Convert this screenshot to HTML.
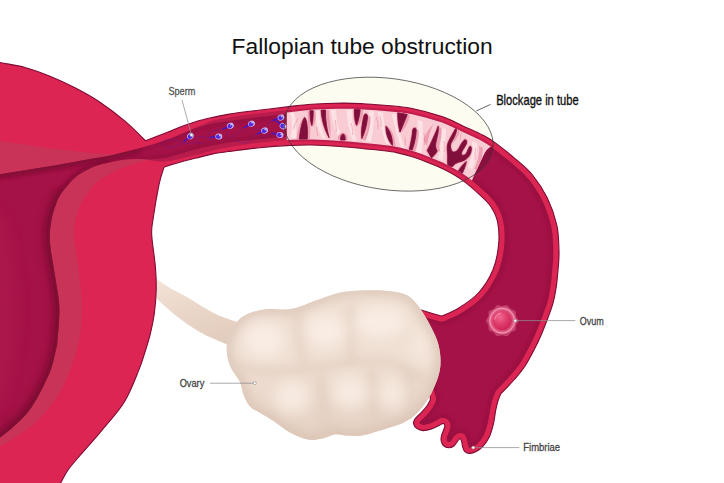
<!DOCTYPE html>
<html lang="en"><head><meta charset="utf-8"><title>Fallopian tube obstruction</title>
<style>html,body{margin:0;padding:0;background:#fff;overflow:hidden}svg{display:block}</style></head>
<body>
<svg width="724" height="483" viewBox="0 0 724 483">
<defs>
<clipPath id="cpDark"><path d="M-20.0 451.0L-3.2 439.7L6.6 432.6L10.6 429.2L20.2 420.4L26.4 413.9L31.0 408.0L37.2 397.9L43.4 386.3L49.5 373.1L51.2 368.4L53.2 361.7L57.1 344.5L58.9 323.1L59.4 312.8L59.2 304.6L58.2 295.5L51.1 252.4L49.8 242.0L49.7 236.1L49.9 230.7L50.8 224.1L52.0 216.7L54.1 209.2L57.5 199.9L60.3 194.7L64.5 189.1L71.4 181.1L77.5 175.5L83.0 171.9L91.4 167.7L95.6 166.0L100.3 164.6L116.1 161.0L123.2 159.8L129.0 159.3L136.1 159.1L141.6 159.0L147.6 159.4L151.8 159.3L159.0 158.7L166.3 157.7L171.1 156.6L186.3 151.9L200.0 148.0L225.9 142.8L238.2 141.3L287.7 136.4L288.0 136.7L288.0 139.8L301.0 139.3L311.9 139.3L322.4 139.7L338.6 140.7L349.4 141.5L379.3 144.5L391.9 146.0L400.6 147.6L409.2 149.8L417.8 152.5L426.3 155.7L440.3 161.4L447.5 164.8L456.0 169.4L461.9 173.0L467.7 177.0L478.2 185.7L487.7 194.3L491.7 198.4L494.5 201.9L497.7 206.8L499.9 211.1L501.7 215.5L503.2 220.7L504.1 226.6L504.7 234.7L504.6 241.2L503.8 249.6L502.8 256.3L501.2 263.1L499.1 269.8L496.3 276.2L491.7 284.6L487.5 290.8L482.9 296.4L477.8 301.4L472.0 306.0L464.4 311.2L457.6 315.3L449.2 319.1L443.4 321.4L441.7 321.7L440.1 321.5L431.0 319.0L416.1 314.4L418.0 334.1L419.1 341.5L420.6 348.7L422.6 356.5L425.4 365.4L435.0 393.9L436.1 397.7L436.0 400.1L435.4 402.3L433.8 405.6L431.9 408.7L427.5 414.2L424.2 417.8L420.1 421.6L419.3 422.8L420.2 423.7L421.7 424.5L423.1 424.9L424.9 424.8L431.4 422.9L440.8 418.1L442.4 417.9L443.9 417.9L446.5 418.7L447.9 419.7L449.2 421.1L450.2 423.2L450.5 425.2L450.4 427.2L449.9 429.4L447.5 435.5L446.9 437.9L446.7 439.7L447.4 441.4L448.7 442.1L450.5 441.5L454.3 436.1L456.8 433.9L459.3 432.9L461.7 433.1L463.9 434.1L464.9 435.0L465.9 436.5L467.3 440.6L467.9 444.4L468.7 447.0L468.8 447.4L469.6 447.7L471.2 447.4L473.1 446.7L477.0 444.2L480.6 440.1L483.5 435.6L485.7 430.4L487.8 422.8L488.6 418.9L490.0 409.9L491.9 401.2L493.3 396.9L495.6 391.3L496.6 389.9L508.1 377.9L513.7 371.5L518.5 365.5L522.2 359.7L530.2 345.0L534.8 335.2L540.3 321.9L546.7 304.2L548.2 299.0L549.3 293.8L551.3 280.5L553.2 258.4L553.1 246.1L552.5 234.9L551.2 226.2L548.2 215.4L544.1 204.6L540.2 196.6L535.6 188.9L529.4 180.2L524.3 174.4L520.4 170.7L510.1 161.8L496.9 151.2L487.6 144.5L479.6 139.9L449.1 125.6L444.0 123.4L433.2 119.8L420.0 116.2L407.6 113.5L398.6 112.2L376.5 110.3L355.2 109.1L345.0 108.8L333.2 109.0L317.0 109.6L306.0 110.4L288.0 112.5L288.0 113.6L287.7 113.9L248.4 118.4L215.6 123.0L205.0 125.4L194.0 128.5L172.9 137.6L163.3 141.1L153.5 144.3L136.9 148.9L110.8 155.4L103.8 156.8L90.0 159.0L76.6 161.6L55.8 165.3L0.0 174.3L-20.0 178.0L-20.0 451.0Z"/></clipPath>
<clipPath id="cpPink"><path d="M286.8 140.0L301.0 139.4L311.9 139.4L325.1 139.9L341.0 141.0L351.3 141.8L379.3 144.6L391.9 146.1L400.6 147.7L409.2 149.9L419.2 153.1L429.1 156.9L443.1 162.8L450.3 166.4L458.9 171.3L466.1 176.0L471.9 180.5L475.4 172.6L484.7 153.1L486.0 151.0L486.9 149.8L488.3 148.5L490.8 146.5L486.1 143.4L479.6 139.8L447.5 124.7L442.2 122.6L438.0 121.2L425.4 117.5L412.3 114.3L407.6 113.4L400.9 112.4L376.5 110.2L352.1 108.8L345.0 108.7L335.8 108.8L314.5 109.6L304.1 110.5L286.8 112.6L286.8 140.0Z"/></clipPath>
<clipPath id="cpOvary"><path d="M236.8 322.2C239.9 318.4 242.5 316.2 247.3 314.0C252.2 311.8 258.4 310.1 265.9 309.2C273.3 308.3 283.3 310.4 292.0 308.8C300.7 307.2 309.9 302.5 318.0 299.8C326.1 297.1 332.4 294.2 340.5 292.6C348.6 291.0 357.8 290.5 366.5 290.3C375.2 290.1 385.8 290.5 392.6 291.4C399.4 292.3 403.1 293.0 407.5 295.5C411.9 298.0 414.9 301.4 418.7 306.5C422.5 311.6 427.1 319.3 430.5 325.9C433.9 332.5 437.2 338.8 438.8 346.0C440.4 353.2 441.2 361.2 440.0 369.0C438.8 376.8 435.1 385.9 431.5 393.0C427.9 400.1 423.3 406.7 418.7 411.6C414.1 416.5 410.2 419.4 403.8 422.5C397.4 425.6 387.0 428.3 380.0 430.5C373.0 432.7 367.4 434.6 362.0 435.5C356.6 436.4 352.1 435.8 347.7 435.6C343.3 435.4 339.6 433.8 335.5 434.2C331.4 434.6 327.9 437.3 323.3 438.2C318.7 439.1 313.6 440.6 308.0 439.6C302.4 438.7 295.6 435.5 290.0 432.5C284.4 429.5 279.8 425.0 274.7 421.7C269.6 418.4 263.6 415.1 259.5 412.6C255.4 410.1 252.7 409.5 250.0 406.5C247.3 403.5 245.2 398.6 243.5 394.5C241.8 390.4 242.0 386.4 239.8 381.8C237.6 377.2 232.7 371.9 230.5 366.9C228.3 361.9 227.1 357.0 226.8 352.0C226.5 347.0 226.9 342.0 228.6 337.0C230.3 332.0 233.7 326.0 236.8 322.2Z"/></clipPath>
<clipPath id="cpLig"><path d="M150.0 274.0C150.8 274.6 151.7 275.1 155.0 277.4C158.3 279.7 164.6 284.7 170.0 288.0C175.4 291.3 179.9 293.1 187.3 297.3C194.7 301.6 206.3 309.4 214.6 313.5C222.9 317.6 231.9 320.1 237.0 322.0C242.1 323.9 243.7 324.5 245.0 325.0L240.0 350.0C237.8 349.1 233.7 347.5 227.0 344.5C220.3 341.5 208.4 337.0 199.7 332.0C191.0 327.0 182.3 320.5 174.9 314.7C167.5 308.9 159.2 300.9 155.0 297.3C150.8 293.7 150.8 293.7 150.0 293.0Z"/></clipPath>
<filter id="b2" filterUnits="userSpaceOnUse" x="-30" y="-30" width="784" height="543"><feGaussianBlur stdDeviation="2.2"/></filter>
<filter id="b3" filterUnits="userSpaceOnUse" x="-30" y="-30" width="784" height="543"><feGaussianBlur stdDeviation="4"/></filter>
<filter id="b8" filterUnits="userSpaceOnUse" x="-30" y="-30" width="784" height="543"><feGaussianBlur stdDeviation="7"/></filter>
<filter id="b1" filterUnits="userSpaceOnUse" x="-30" y="-30" width="784" height="543"><feGaussianBlur stdDeviation="0.7"/></filter>
<radialGradient id="gOvum" cx="0.38" cy="0.32" r="0.75"><stop offset="0" stop-color="#F0688F"/><stop offset="0.55" stop-color="#DD3968"/><stop offset="1" stop-color="#CB2052"/></radialGradient>
<linearGradient id="gOvSh" x1="0" y1="0" x2="0" y2="1"><stop offset="0.45" stop-color="#D8BFAE" stop-opacity="0"/><stop offset="1" stop-color="#D8BFAE" stop-opacity="0.5"/></linearGradient>
<linearGradient id="gLig" x1="0" y1="0" x2="0.35" y2="1"><stop offset="0" stop-color="#F3E4D8"/><stop offset="0.5" stop-color="#EBD8CA"/><stop offset="1" stop-color="#E2CCBD"/></linearGradient>
</defs>
<rect width="724" height="483" fill="#fff"/>
<ellipse cx="388.7" cy="134.15" rx="105.2" ry="55.6" transform="rotate(8 388.7 134.15)" fill="#FDFCF1"/>
<path d="M150.0 274.0C150.8 274.6 151.7 275.1 155.0 277.4C158.3 279.7 164.6 284.7 170.0 288.0C175.4 291.3 179.9 293.1 187.3 297.3C194.7 301.6 206.3 309.4 214.6 313.5C222.9 317.6 231.9 320.1 237.0 322.0C242.1 323.9 243.7 324.5 245.0 325.0L240.0 350.0C237.8 349.1 233.7 347.5 227.0 344.5C220.3 341.5 208.4 337.0 199.7 332.0C191.0 327.0 182.3 320.5 174.9 314.7C167.5 308.9 159.2 300.9 155.0 297.3C150.8 293.7 150.8 293.7 150.0 293.0Z" fill="url(#gLig)"/>
<path d="M-20.0 58.0C-16.7 58.8 -7.5 60.9 0.0 62.5C7.5 64.1 16.7 65.2 25.0 67.5C33.3 69.8 41.7 72.9 50.0 76.3C58.3 79.7 66.7 83.5 75.0 87.8C83.3 92.1 91.7 96.6 100.0 102.2C108.3 107.8 117.4 114.8 125.0 121.2C132.6 127.6 142.2 137.5 145.6 140.8L145.6 140.8C148.5 139.7 157.3 136.2 163.0 134.0C168.7 131.8 174.1 129.4 179.7 127.3C185.2 125.2 190.8 123.2 196.3 121.5C201.8 119.8 207.4 118.6 212.9 117.4C218.4 116.2 223.3 115.1 229.5 114.1C235.7 113.1 240.4 112.5 250.0 111.3C259.6 110.1 276.7 108.1 287.0 106.9C297.3 105.7 302.5 104.8 311.8 104.2C321.1 103.6 334.3 103.2 342.9 103.1C351.5 103.0 356.7 103.4 363.6 103.8C370.5 104.2 376.4 104.5 384.3 105.2C392.2 106.0 401.4 106.4 411.0 108.3C420.6 110.2 433.4 113.7 442.0 116.6C450.6 119.5 456.0 122.7 462.9 125.9C469.8 129.1 478.1 132.7 483.6 135.6C489.1 138.5 490.7 139.5 496.0 143.4C501.3 147.3 509.2 153.5 515.3 158.8C521.4 164.1 527.2 168.5 532.5 175.0C537.8 181.5 543.2 189.7 547.3 198.0C551.3 206.3 554.8 216.0 556.8 225.0C558.8 234.0 558.8 244.5 559.0 252.0C559.2 259.5 558.5 264.2 558.0 270.0C557.5 275.8 557.1 281.1 556.3 286.6C555.5 292.1 554.5 297.6 553.0 303.1C551.5 308.6 549.3 314.2 547.2 319.7C545.1 325.2 542.8 331.2 540.6 336.3C538.4 341.4 536.6 345.0 534.0 350.0C531.4 355.0 527.9 361.7 524.7 366.5C521.5 371.3 518.0 375.3 514.8 379.0C511.6 382.7 508.0 386.4 505.6 388.9C503.2 391.4 501.5 393.1 500.7 393.9L500.7 393.9C500.2 395.2 498.5 399.1 497.6 402.0C496.8 404.9 496.3 407.5 495.6 411.0C494.9 414.5 494.6 418.9 493.6 423.1C492.6 427.3 491.3 432.5 489.5 436.4C487.7 440.3 485.1 443.8 482.9 446.3C480.7 448.8 478.4 450.3 476.2 451.5C474.0 452.7 471.5 453.4 469.6 453.4C467.7 453.4 465.8 452.5 464.6 451.3C463.4 450.1 463.0 447.9 462.5 446.3C462.0 444.8 462.2 443.3 461.8 442.0C461.4 440.7 461.0 438.8 460.3 438.6C459.6 438.4 458.8 439.8 457.7 441.0C456.6 442.2 455.4 444.9 453.9 446.0C452.3 447.1 450.1 447.9 448.4 447.8C446.6 447.7 444.6 446.7 443.4 445.5C442.2 444.3 441.4 442.3 441.1 440.5C440.8 438.7 441.2 436.8 441.8 434.7C442.4 432.6 443.9 429.7 444.4 428.0C444.9 426.3 444.9 425.2 444.6 424.5C444.3 423.8 443.4 423.4 442.5 423.6C441.6 423.8 440.8 424.7 439.0 425.6C437.2 426.5 434.1 428.1 431.5 428.9C428.9 429.7 425.6 430.7 423.2 430.6C420.8 430.5 418.5 429.5 416.9 428.4C415.3 427.3 413.9 425.5 413.6 423.9C413.3 422.3 413.7 420.8 414.9 419.0C416.1 417.2 418.8 415.3 420.7 413.2C422.6 411.1 425.0 408.6 426.5 406.5C428.0 404.4 429.2 402.1 429.9 400.7C430.5 399.3 430.3 398.4 430.4 398.0L430.4 398.0C427.8 390.0 418.4 364.6 415.0 350.0C411.6 335.4 410.8 317.2 410.0 310.7L410.0 306.5C413.3 307.6 424.7 311.2 430.0 312.8C435.3 314.4 439.7 315.5 441.6 316.0L441.6 316.0C444.3 314.8 451.8 312.4 458.0 308.5C464.2 304.6 473.0 299.0 478.8 292.5C484.6 286.0 489.7 277.6 493.0 269.7C496.3 261.8 497.8 252.8 498.6 244.9C499.4 237.0 498.9 228.4 497.6 222.0C496.3 215.6 493.6 210.8 490.6 206.2C487.6 201.6 484.1 198.9 479.5 194.6C474.9 190.3 468.4 184.6 462.9 180.6C457.4 176.6 451.8 173.5 446.3 170.6C440.8 167.7 435.2 165.5 429.7 163.2C424.2 160.9 418.7 158.8 413.2 157.0C407.7 155.2 402.1 153.7 396.6 152.6C391.1 151.5 385.5 151.0 380.0 150.3C374.5 149.7 369.8 149.3 363.6 148.7C357.4 148.1 351.5 147.3 342.9 146.7C334.3 146.1 321.1 145.2 311.8 145.0C302.5 144.8 295.6 145.2 287.0 145.6C278.4 146.0 269.6 146.7 260.0 147.7C250.4 148.7 237.3 150.4 229.5 151.4C221.7 152.4 218.4 152.8 212.9 153.9C207.4 155.0 201.8 156.6 196.3 158.0C190.8 159.4 185.1 160.7 179.7 162.2C174.3 163.7 166.6 166.3 164.0 167.1L164.0 167.1C163.2 170.0 160.8 175.9 159.0 184.6C157.2 193.3 154.2 211.1 153.0 219.5C151.8 227.9 151.3 227.1 151.7 235.0C152.1 242.9 154.7 257.8 155.4 267.0C156.2 276.2 156.3 282.5 156.2 290.0C156.0 297.5 155.4 304.8 154.5 312.0C153.6 319.2 152.1 326.3 150.5 333.0C148.9 339.7 146.9 345.9 145.0 352.0C143.1 358.1 142.4 361.3 139.0 369.6C135.6 377.9 130.7 391.6 124.3 402.0C117.9 412.4 108.0 422.9 100.6 431.8C93.2 440.7 85.4 449.1 80.0 455.5C74.6 461.9 71.2 465.4 68.0 470.0C64.8 474.6 63.4 478.0 60.7 483.0C58.0 488.0 53.5 497.2 52.0 500.0L52.0 500.0C40.0 500.0 -8.0 500.0 -20.0 500.0Z" fill="#DC2553" stroke="#7E0B35" stroke-width="1.1" stroke-linejoin="round"/>
<path d="M156.0 158.0C153.3 158.7 145.2 160.7 139.7 162.3C134.2 163.9 128.7 165.2 123.2 167.5C117.7 169.8 111.4 173.2 106.6 176.0C101.8 178.8 98.1 181.1 94.5 184.6C90.9 188.1 87.5 193.3 85.0 197.0C82.5 200.7 81.3 202.4 79.6 207.0C77.9 211.6 75.4 218.9 74.6 224.4C73.8 229.9 74.0 232.9 74.6 240.0C75.2 247.1 77.1 256.2 78.3 267.0C79.5 277.8 81.6 294.2 82.0 304.6C82.4 315.0 81.5 322.8 80.8 329.5C80.1 336.2 79.4 339.3 78.0 345.0C76.6 350.7 75.6 355.6 72.5 363.7C69.4 371.8 64.9 383.9 59.2 393.3C53.5 402.7 45.9 412.6 38.5 420.0C31.1 427.4 21.2 433.3 14.8 437.7C8.4 442.1 5.8 443.2 0.0 446.6C-5.8 450.0 -16.7 456.1 -20.0 458.0L-20.0 458.0C-20.0 431.7 -26.7 343.0 -20.0 300.0C-13.3 257.0 0.0 223.3 20.0 200.0C40.0 176.7 77.3 168.0 100.0 160.0C122.7 152.0 146.7 153.3 156.0 152.0Z" fill="#C93358"/>
<path d="M-20.0 138.0C-16.7 138.5 -13.3 139.1 0.0 141.0C13.3 142.9 42.7 147.1 60.0 149.3C77.3 151.5 93.3 153.4 104.0 154.0C114.7 154.6 120.7 152.8 124.0 152.6L124.0 152.6C124.0 153.2 129.7 154.8 124.0 156.0C118.3 157.2 110.7 156.7 90.0 160.0C69.3 163.3 18.3 172.7 0.0 176.0C-18.3 179.3 -16.7 179.3 -20.0 180.0Z" fill="#C93358"/>
<path d="M289.6 141.9L301.1 141.4L311.9 141.4L325.0 141.9L340.9 142.9L351.1 143.8L379.0 146.6L391.6 148.1L398.7 149.4L407.3 151.5L417.1 154.5L425.5 157.6L439.4 163.4L446.6 166.7L455.0 171.3L460.7 174.8L466.9 179.1L472.6 176.0L478.3 172.0L482.0 168.7L484.2 166.5L486.1 164.1L488.6 160.5L490.0 158.0L491.1 155.4L492.0 152.8L492.7 150.1L493.1 145.8L487.1 141.7L480.5 138.1L448.3 122.9L442.9 120.7L438.6 119.3L425.9 115.5L417.9 113.5L410.3 111.8L405.7 111.0L398.9 110.1L375.0 108.1L348.7 106.7L333.2 106.9L314.4 107.6L303.9 108.5L287.3 110.5L286.8 111.6L286.8 136.2L288.0 138.9L289.6 141.9Z" fill="#C21B4C"/>
<path d="M193.0 128.6C196.3 127.3 206.8 122.7 212.9 120.8C219.0 118.9 221.8 118.6 229.5 117.4C237.2 116.2 248.6 114.7 259.0 113.4C269.4 112.1 286.5 110.3 292.0 109.7L292.0 120.0C281.7 121.0 246.0 124.2 230.0 126.0C214.0 127.8 201.7 130.2 196.0 131.0ZM148.4 159.8C150.2 160.1 155.6 161.4 159.0 161.6C162.4 161.8 165.5 161.5 168.7 161.1C171.9 160.7 175.2 159.9 178.4 159.2C181.6 158.5 184.4 157.7 188.0 156.8C191.6 155.9 195.8 155.0 200.0 153.9C204.2 152.8 208.0 151.6 212.9 150.4C217.8 149.2 221.8 148.3 229.5 147.0C237.2 145.7 248.6 144.0 259.0 142.7C269.4 141.4 286.5 139.9 292.0 139.4L292.0 132.0C276.7 134.0 223.9 139.8 200.0 144.0C176.1 148.2 157.0 154.8 148.4 157.0Z" fill="#B71C4D"/>
<path d="M-20.0 451.0L-3.2 439.7L6.6 432.6L10.6 429.2L20.2 420.4L26.4 413.9L31.0 408.0L37.2 397.9L43.4 386.3L49.5 373.1L51.2 368.4L53.2 361.7L57.1 344.5L58.9 323.1L59.4 312.8L59.2 304.6L58.2 295.5L51.1 252.4L49.8 242.0L49.7 236.1L49.9 230.7L50.8 224.1L52.0 216.7L54.1 209.2L57.5 199.9L60.3 194.7L64.5 189.1L71.4 181.1L77.5 175.5L83.0 171.9L91.4 167.7L95.6 166.0L100.3 164.6L116.1 161.0L123.2 159.8L129.0 159.3L136.1 159.1L141.6 159.0L147.6 159.4L151.8 159.3L159.0 158.7L166.3 157.7L171.1 156.6L186.3 151.9L200.0 148.0L225.9 142.8L238.2 141.3L287.7 136.4L288.0 136.7L288.0 139.8L301.0 139.3L311.9 139.3L322.4 139.7L338.6 140.7L349.4 141.5L379.3 144.5L391.9 146.0L400.6 147.6L409.2 149.8L417.8 152.5L426.3 155.7L440.3 161.4L447.5 164.8L456.0 169.4L461.9 173.0L467.7 177.0L478.2 185.7L487.7 194.3L491.7 198.4L494.5 201.9L497.7 206.8L499.9 211.1L501.7 215.5L503.2 220.7L504.1 226.6L504.7 234.7L504.6 241.2L503.8 249.6L502.8 256.3L501.2 263.1L499.1 269.8L496.3 276.2L491.7 284.6L487.5 290.8L482.9 296.4L477.8 301.4L472.0 306.0L464.4 311.2L457.6 315.3L449.2 319.1L443.4 321.4L441.7 321.7L440.1 321.5L431.0 319.0L416.1 314.4L418.0 334.1L419.1 341.5L420.6 348.7L422.6 356.5L425.4 365.4L435.0 393.9L436.1 397.7L436.0 400.1L435.4 402.3L433.8 405.6L431.9 408.7L427.5 414.2L424.2 417.8L420.1 421.6L419.3 422.8L420.2 423.7L421.7 424.5L423.1 424.9L424.9 424.8L431.4 422.9L440.8 418.1L442.4 417.9L443.9 417.9L446.5 418.7L447.9 419.7L449.2 421.1L450.2 423.2L450.5 425.2L450.4 427.2L449.9 429.4L447.5 435.5L446.9 437.9L446.7 439.7L447.4 441.4L448.7 442.1L450.5 441.5L454.3 436.1L456.8 433.9L459.3 432.9L461.7 433.1L463.9 434.1L464.9 435.0L465.9 436.5L467.3 440.6L467.9 444.4L468.7 447.0L468.8 447.4L469.6 447.7L471.2 447.4L473.1 446.7L477.0 444.2L480.6 440.1L483.5 435.6L485.7 430.4L487.8 422.8L488.6 418.9L490.0 409.9L491.9 401.2L493.3 396.9L495.6 391.3L496.6 389.9L508.1 377.9L513.7 371.5L518.5 365.5L522.2 359.7L530.2 345.0L534.8 335.2L540.3 321.9L546.7 304.2L548.2 299.0L549.3 293.8L551.3 280.5L553.2 258.4L553.1 246.1L552.5 234.9L551.2 226.2L548.2 215.4L544.1 204.6L540.2 196.6L535.6 188.9L529.4 180.2L524.3 174.4L520.4 170.7L510.1 161.8L496.9 151.2L487.6 144.5L479.6 139.9L449.1 125.6L444.0 123.4L433.2 119.8L420.0 116.2L407.6 113.5L398.6 112.2L376.5 110.3L355.2 109.1L345.0 108.8L333.2 109.0L317.0 109.6L306.0 110.4L288.0 112.5L288.0 113.6L287.7 113.9L248.4 118.4L215.6 123.0L205.0 125.4L194.0 128.5L172.9 137.6L163.3 141.1L153.5 144.3L136.9 148.9L110.8 155.4L103.8 156.8L90.0 159.0L76.6 161.6L55.8 165.3L0.0 174.3L-20.0 178.0L-20.0 451.0Z" fill="#A51247"/>
<g clip-path="url(#cpDark)"><path d="M-20.0 451.0L-3.2 439.7L6.6 432.6L10.6 429.2L20.2 420.4L26.4 413.9L31.0 408.0L37.2 397.9L43.4 386.3L49.5 373.1L51.2 368.4L53.2 361.7L57.1 344.5L58.9 323.1L59.4 312.8L59.2 304.6L58.2 295.5L51.1 252.4L49.8 242.0L49.7 236.1L49.9 230.7L50.8 224.1L52.0 216.7L54.1 209.2L57.5 199.9L60.3 194.7L64.5 189.1L71.4 181.1L77.5 175.5L83.0 171.9L91.4 167.7L95.6 166.0L100.3 164.6L116.1 161.0L123.2 159.8L129.0 159.3L136.1 159.1L141.6 159.0L147.6 159.4L151.8 159.3L159.0 158.7L166.3 157.7L171.1 156.6L186.3 151.9L200.0 148.0L225.9 142.8L238.2 141.3L287.7 136.4L288.0 136.7L288.0 139.8L301.0 139.3L311.9 139.3L322.4 139.7L338.6 140.7L349.4 141.5L379.3 144.5L391.9 146.0L400.6 147.6L409.2 149.8L417.8 152.5L426.3 155.7L440.3 161.4L447.5 164.8L456.0 169.4L461.9 173.0L467.7 177.0L478.2 185.7L487.7 194.3L491.7 198.4L494.5 201.9L497.7 206.8L499.9 211.1L501.7 215.5L503.2 220.7L504.1 226.6L504.7 234.7L504.6 241.2L503.8 249.6L502.8 256.3L501.2 263.1L499.1 269.8L496.3 276.2L491.7 284.6L487.5 290.8L482.9 296.4L477.8 301.4L472.0 306.0L464.4 311.2L457.6 315.3L449.2 319.1L443.4 321.4L441.7 321.7L440.1 321.5L431.0 319.0L416.1 314.4L418.0 334.1L419.1 341.5L420.6 348.7L422.6 356.5L425.4 365.4L435.0 393.9L436.1 397.7L436.0 400.1L435.4 402.3L433.8 405.6L431.9 408.7L427.5 414.2L424.2 417.8L420.1 421.6L419.3 422.8L420.2 423.7L421.7 424.5L423.1 424.9L424.9 424.8L431.4 422.9L440.8 418.1L442.4 417.9L443.9 417.9L446.5 418.7L447.9 419.7L449.2 421.1L450.2 423.2L450.5 425.2L450.4 427.2L449.9 429.4L447.5 435.5L446.9 437.9L446.7 439.7L447.4 441.4L448.7 442.1L450.5 441.5L454.3 436.1L456.8 433.9L459.3 432.9L461.7 433.1L463.9 434.1L464.9 435.0L465.9 436.5L467.3 440.6L467.9 444.4L468.7 447.0L468.8 447.4L469.6 447.7L471.2 447.4L473.1 446.7L477.0 444.2L480.6 440.1L483.5 435.6L485.7 430.4L487.8 422.8L488.6 418.9L490.0 409.9L491.9 401.2L493.3 396.9L495.6 391.3L496.6 389.9L508.1 377.9L513.7 371.5L518.5 365.5L522.2 359.7L530.2 345.0L534.8 335.2L540.3 321.9L546.7 304.2L548.2 299.0L549.3 293.8L551.3 280.5L553.2 258.4L553.1 246.1L552.5 234.9L551.2 226.2L548.2 215.4L544.1 204.6L540.2 196.6L535.6 188.9L529.4 180.2L524.3 174.4L520.4 170.7L510.1 161.8L496.9 151.2L487.6 144.5L479.6 139.9L449.1 125.6L444.0 123.4L433.2 119.8L420.0 116.2L407.6 113.5L398.6 112.2L376.5 110.3L355.2 109.1L345.0 108.8L333.2 109.0L317.0 109.6L306.0 110.4L288.0 112.5L288.0 113.6L287.7 113.9L248.4 118.4L215.6 123.0L205.0 125.4L194.0 128.5L172.9 137.6L163.3 141.1L153.5 144.3L136.9 148.9L110.8 155.4L103.8 156.8L90.0 159.0L76.6 161.6L55.8 165.3L0.0 174.3L-20.0 178.0L-20.0 451.0Z" fill="none" stroke="#7C0B36" stroke-width="5" filter="url(#b2)" opacity="0.4"/>
<path d="M59.8 195.5C59.1 197.1 56.9 201.0 55.5 205.0C54.1 209.0 52.5 213.7 51.5 219.5C50.5 225.3 49.4 232.1 49.7 240.0C50.0 247.9 51.9 256.2 53.5 267.0C55.1 277.8 58.5 293.4 59.2 304.6C60.0 315.8 58.5 326.4 58.0 334.0C57.5 341.6 57.6 343.1 56.0 350.0C54.4 356.9 52.7 365.8 48.5 375.5C44.3 385.2 36.9 399.4 31.0 408.0C25.1 416.6 18.2 422.1 13.0 427.0C7.8 431.9 5.5 433.5 0.0 437.5C-5.5 441.5 -16.7 448.8 -20.0 451.0" fill="none" stroke="#74072F" stroke-width="12" stroke-linecap="round" filter="url(#b3)" opacity="0.6"/>
<path d="M106.6 163.2C104.6 163.7 98.7 164.9 94.6 166.4C90.5 167.9 85.4 170.5 82.1 172.4C78.8 174.3 77.1 175.7 74.6 178.0C72.1 180.3 69.5 183.1 67.0 186.0C64.5 188.9 61.7 192.3 59.8 195.5C57.9 198.7 56.9 201.0 55.5 205.0C54.1 209.0 52.5 213.7 51.5 219.5C50.5 225.3 49.4 232.1 49.7 240.0C50.0 247.9 51.9 256.2 53.5 267.0C55.1 277.8 58.5 293.4 59.2 304.6C60.0 315.8 58.5 326.4 58.0 334.0C57.5 341.6 57.6 343.1 56.0 350.0C54.4 356.9 52.7 365.8 48.5 375.5C44.3 385.2 36.9 399.4 31.0 408.0C25.1 416.6 18.2 422.1 13.0 427.0C7.8 431.9 5.5 433.5 0.0 437.5C-5.5 441.5 -16.7 448.8 -20.0 451.0" fill="none" stroke="#74072F" stroke-width="5" stroke-linecap="round" filter="url(#b2)" opacity="0.6"/>
<path d="M-20.0 178.0C-16.7 177.4 -10.0 176.0 0.0 174.3C10.0 172.6 27.6 170.1 40.0 168.0C52.4 165.9 66.3 163.5 74.6 162.0C82.9 160.5 84.7 159.9 90.0 159.0C95.3 158.1 101.1 157.4 106.6 156.3C112.1 155.2 117.7 153.7 123.2 152.3C128.7 151.0 136.9 148.9 139.7 148.2" fill="none" stroke="#74072F" stroke-width="8" filter="url(#b2)" opacity="0.6"/>
<ellipse cx="-6" cy="310" rx="22" ry="100" fill="#BC2A5C" filter="url(#b8)" opacity="0.25"/>
</g>
<path d="M474.4 174.8L478.3 172.0L480.8 169.8L484.2 166.5L487.0 162.9L489.4 159.3L490.6 156.7L491.6 154.1L492.4 151.5L493.0 148.1L490.8 146.5L488.3 148.5L486.9 149.8L486.0 151.0L484.7 153.1L474.4 174.8Z" fill="#8B0F3E"/>
<path d="M286.8 140.0L301.0 139.4L311.9 139.4L325.1 139.9L341.0 141.0L351.3 141.8L379.3 144.6L391.9 146.1L400.6 147.7L409.2 149.9L419.2 153.1L429.1 156.9L443.1 162.8L450.3 166.4L458.9 171.3L466.1 176.0L471.9 180.5L475.4 172.6L484.7 153.1L486.0 151.0L486.9 149.8L488.3 148.5L490.8 146.5L486.1 143.4L479.6 139.8L447.5 124.7L442.2 122.6L438.0 121.2L425.4 117.5L412.3 114.3L407.6 113.4L400.9 112.4L376.5 110.2L352.1 108.8L345.0 108.7L335.8 108.8L314.5 109.6L304.1 110.5L286.8 112.6L286.8 140.0Z" fill="#F9CCD3"/>
<g clip-path="url(#cpPink)">
<path d="M290 113C293 120 292 131 290.5 138L296 138.5C297 130 296 119 294 112.5Z" fill="#FCE2E4"/>
<path d="M314.5 111C315.5 120 318 131 322.5 138.5L326 138.5C321.5 130 319.5 120 319.5 110.5Z" fill="#FCE2E4"/>
<path d="M331 110C331.5 118 334 128 338 136L341 134C337.5 127 336 118 336 110Z" fill="#FCE2E4"/>
<path d="M346.5 110C347 120 349.5 131 352 140L356.5 140.5C353.5 131 352 120 352 110Z" fill="#FCE2E4"/>
<path d="M369 111C369 120 367.5 131 365.5 141L371 142C373.2 132 374.2 121 374 111.5Z" fill="#FCE2E4"/>
<path d="M378 112C379.5 121 382 133 386 143.5L389.5 144.5C385.5 133 383.5 122 383 112.5Z" fill="#FCE2E4"/>
<path d="M392 114C393.5 122 396 133 401 147.5L405 148.5C400 136 398 124 397 114.5Z" fill="#FCE2E4"/>
<path d="M417.5 120C418.5 130 418 142 416 152L421 154C423.3 144 423.5 132 422.5 121.5Z" fill="#FCE2E4"/>
<path d="M441 127.5C441.5 136 440.5 148 438 158.5L442.5 161C445 150 446 138 446 129.5Z" fill="#FCE2E4"/>
<path d="M472 141C473 148 471.5 158 468 167L472 170C476 161 478 151 477 143Z" fill="#FCE2E4"/>
<path d="M296.5 139C297.5 130 300 121 304 117C301.5 123 299.5 131 298.8 139Z" fill="#EC9FB0"/>
<path d="M307.5 111C308 120 308.3 131 307.8 139L310 139C310.8 130 310.3 120 309.8 111Z" fill="#EC9FB0"/>
<path d="M313.4 111C314 118 313.6 124 312.2 127C315 126 316.2 120 315.6 111Z" fill="#EC9FB0"/>
<path d="M326 110.2C326.4 119 328 128 330.4 136C331.4 130 329.6 119 329 110.2Z" fill="#EC9FB0"/>
<path d="M337.5 139.5C338 135.5 340 132.5 343 132.5C346 132.5 347.6 135.5 347.8 140L345.4 140C345.2 136 344.6 134 343 134C341.4 134 340.6 136 340.4 140Z" fill="#EC9FB0"/>
<path d="M360.5 109.7C360.5 117 359 123 357 126.5C360.5 124.5 363 118 363 110Z" fill="#EC9FB0"/>
<path d="M368 116C368.5 124 366.5 133 363 139.5L365.5 140.5C369 133 370.8 124 370.5 116.5Z" fill="#EC9FB0"/>
<path d="M392.8 145.5C393.2 138 390.5 130 386.5 126C390.5 127.5 395.5 136 395.4 146Z" fill="#EC9FB0"/>
<path d="M407.5 114.8C405.5 121 403 127.5 400.6 132.5C404.5 130 408.5 122 410 115.5Z" fill="#EC9FB0"/>
<path d="M416.5 130C416.5 137 414.8 145 412.5 150.8L415 151.6C417.6 145 419 137 418.8 130.5Z" fill="#EC9FB0"/>
<path d="M423.5 140C425 135 428.5 128.5 433.5 124C430.5 130 428.5 137 427 146Z" fill="#EC9FB0"/>
<path d="M439 127C439.5 133 438 139 436.8 143.5C436.2 146 436.8 149 438.2 151L440.5 151.5C439 148.5 439 146 439.6 143.5C441 139 441.8 133 441.6 128Z" fill="#EC9FB0"/>
<path d="M457 127.6C458.5 131.5 455.8 138 452.6 143C455.5 141.5 459.8 135 460 128.8Z" fill="#EC9FB0"/>
<path d="M479 146C480 152 478 161 474.5 168.5L477 171C481 163 483.6 153 482.6 147.5Z" fill="#EC9FB0"/>
<path d="M298.5 118C296 121 294.5 125 293.5 129" fill="none" stroke="#E8768C" stroke-width="0.45"/>
<path d="M351 123C352.5 127 353 131 352.6 135" fill="none" stroke="#E8768C" stroke-width="0.45"/>
<path d="M376.5 117C377.8 121 378.3 125 378 129" fill="none" stroke="#E8768C" stroke-width="0.45"/>
<path d="M380 116C381 120 381.5 124 381.3 127" fill="none" stroke="#E8768C" stroke-width="0.45"/>
<path d="M404.8 137C405.5 140 405.6 143 405.2 146" fill="none" stroke="#E8768C" stroke-width="0.45"/>
<path d="M424 133C424.8 137 424.8 141 424.3 145" fill="none" stroke="#E8768C" stroke-width="0.45"/>
<path d="M444 141C444.6 145 444.5 149 444 152" fill="none" stroke="#E8768C" stroke-width="0.45"/>
<path d="M462 131C460.8 134 460.2 137 460.3 140" fill="none" stroke="#E8768C" stroke-width="0.45"/>
<path d="M476 148C475 152 474.8 156 475.3 160" fill="none" stroke="#E8768C" stroke-width="0.45"/>
<path d="M335 120C336 124 336.4 128 336.2 132" fill="none" stroke="#E8768C" stroke-width="0.45"/>
<path d="M316 127C317 130 317.6 133 317.6 136" fill="none" stroke="#E8768C" stroke-width="0.45"/>
<path d="M299.3 139.5C300 130 302.5 120 304.6 117.6C306.8 118.5 308 130 307.2 139.5Z" fill="#EE9FB1" stroke="#EE9FB1" stroke-width="2.6" stroke-linejoin="round" opacity="0.8"/>
<path d="M310 110.8L313.2 110.7C313.2 118 312.6 123 311.8 125.5C310.8 123 310 118 310 110.8Z" fill="#EE9FB1" stroke="#EE9FB1" stroke-width="2.6" stroke-linejoin="round" opacity="0.8"/>
<path d="M321.2 110L325.4 110C325.2 120 327 130 329 137.5C325.5 131 321.6 121 321.2 110Z" fill="#EE9FB1" stroke="#EE9FB1" stroke-width="2.6" stroke-linejoin="round" opacity="0.8"/>
<path d="M340.6 140C340.6 136 341.4 134.2 343 134.2C344.6 134.2 345.2 136 345.2 140Z" fill="#EE9FB1" stroke="#EE9FB1" stroke-width="2.6" stroke-linejoin="round" opacity="0.8"/>
<path d="M354.4 109.3L360.2 109.5C359.6 116 358 122 356.6 125.3C355 122 354.2 116 354.4 109.3Z" fill="#EE9FB1" stroke="#EE9FB1" stroke-width="2.6" stroke-linejoin="round" opacity="0.8"/>
<path d="M364.3 114.8C365.8 113.3 367.8 114.3 367.5 117C367 125 364.5 133 361.9 138.5C360.8 132 362.3 122 364.3 114.8Z" fill="#EE9FB1" stroke="#EE9FB1" stroke-width="2.6" stroke-linejoin="round" opacity="0.8"/>
<path d="M386 126.3C389.8 130 392.8 138 392.4 145.3C388.3 141 385.6 133 386 126.3Z" fill="#EE9FB1" stroke="#EE9FB1" stroke-width="2.6" stroke-linejoin="round" opacity="0.8"/>
<path d="M397.8 112.6L407.2 114.6C405 120.5 402.2 127 400 132C398.4 126 397.6 119 397.8 112.6Z" fill="#EE9FB1" stroke="#EE9FB1" stroke-width="2.6" stroke-linejoin="round" opacity="0.8"/>
<path d="M412.8 129.8C413.6 127.3 416.2 127.6 416.2 130.2C416 137 414.2 144.5 412 150.3L409.3 149.3C411.2 142 412.4 135 412.8 129.8Z" fill="#EE9FB1" stroke="#EE9FB1" stroke-width="2.6" stroke-linejoin="round" opacity="0.8"/>
<path d="M438.2 126.3C436.2 132 433.2 138 431 143C429.6 146 428.2 148.5 427.3 150.5L431.5 158C433.6 156 436.2 153.2 437.2 151C435.6 148.5 435.2 146 435.8 143C437 137 439 131 438.2 126.3Z" fill="#EE9FB1" stroke="#EE9FB1" stroke-width="2.6" stroke-linejoin="round" opacity="0.8"/>
<path d="M456.2 127.3C457.5 131 454.5 137.5 451.3 142.5C450 145 450.2 148.5 452 151.5C454.5 153 457 151.5 458.8 148.5C460.5 145.5 462.5 141.2 464.8 139.8C466.8 139.5 467.2 142 466.2 144.2C464.5 147.5 461.3 151.5 461.3 153.8C461.8 156 464.6 155.8 466.3 153.5C467.6 151.5 468.6 147.5 470 146.2C471.6 146.2 471.6 149 471 151.5C470 156 466.5 160 461 161.5C456.5 162.5 454 164 452.5 166.5L448 167C447.3 162 448 157.5 447.6 153C447 149 447 145 448.6 141.5C451 136.5 454.3 131.5 456.2 127.3Z" fill="#EE9FB1" stroke="#EE9FB1" stroke-width="2.6" stroke-linejoin="round" opacity="0.8"/>
<path d="M466.3 161.6C465.8 165 463.8 170 462 173.8L458 171.5C460.3 168 463.3 164 466.3 161.6Z" fill="#EE9FB1" stroke="#EE9FB1" stroke-width="2.6" stroke-linejoin="round" opacity="0.8"/>
<path d="M299.3 139.5C300 130 302.5 120 304.6 117.6C306.8 118.5 308 130 307.2 139.5Z" fill="#800F3B" stroke="#860F3D" stroke-width="0.9" stroke-linejoin="round"/>
<path d="M310 110.8L313.2 110.7C313.2 118 312.6 123 311.8 125.5C310.8 123 310 118 310 110.8Z" fill="#800F3B" stroke="#860F3D" stroke-width="0.9" stroke-linejoin="round"/>
<path d="M321.2 110L325.4 110C325.2 120 327 130 329 137.5C325.5 131 321.6 121 321.2 110Z" fill="#800F3B" stroke="#860F3D" stroke-width="0.9" stroke-linejoin="round"/>
<path d="M340.6 140C340.6 136 341.4 134.2 343 134.2C344.6 134.2 345.2 136 345.2 140Z" fill="#800F3B" stroke="#860F3D" stroke-width="0.9" stroke-linejoin="round"/>
<path d="M354.4 109.3L360.2 109.5C359.6 116 358 122 356.6 125.3C355 122 354.2 116 354.4 109.3Z" fill="#800F3B" stroke="#860F3D" stroke-width="0.9" stroke-linejoin="round"/>
<path d="M364.3 114.8C365.8 113.3 367.8 114.3 367.5 117C367 125 364.5 133 361.9 138.5C360.8 132 362.3 122 364.3 114.8Z" fill="#800F3B" stroke="#860F3D" stroke-width="0.9" stroke-linejoin="round"/>
<path d="M386 126.3C389.8 130 392.8 138 392.4 145.3C388.3 141 385.6 133 386 126.3Z" fill="#800F3B" stroke="#860F3D" stroke-width="0.9" stroke-linejoin="round"/>
<path d="M397.8 112.6L407.2 114.6C405 120.5 402.2 127 400 132C398.4 126 397.6 119 397.8 112.6Z" fill="#800F3B" stroke="#860F3D" stroke-width="0.9" stroke-linejoin="round"/>
<path d="M412.8 129.8C413.6 127.3 416.2 127.6 416.2 130.2C416 137 414.2 144.5 412 150.3L409.3 149.3C411.2 142 412.4 135 412.8 129.8Z" fill="#800F3B" stroke="#860F3D" stroke-width="0.9" stroke-linejoin="round"/>
<path d="M438.2 126.3C436.2 132 433.2 138 431 143C429.6 146 428.2 148.5 427.3 150.5L431.5 158C433.6 156 436.2 153.2 437.2 151C435.6 148.5 435.2 146 435.8 143C437 137 439 131 438.2 126.3Z" fill="#800F3B" stroke="#860F3D" stroke-width="0.9" stroke-linejoin="round"/>
<path d="M456.2 127.3C457.5 131 454.5 137.5 451.3 142.5C450 145 450.2 148.5 452 151.5C454.5 153 457 151.5 458.8 148.5C460.5 145.5 462.5 141.2 464.8 139.8C466.8 139.5 467.2 142 466.2 144.2C464.5 147.5 461.3 151.5 461.3 153.8C461.8 156 464.6 155.8 466.3 153.5C467.6 151.5 468.6 147.5 470 146.2C471.6 146.2 471.6 149 471 151.5C470 156 466.5 160 461 161.5C456.5 162.5 454 164 452.5 166.5L448 167C447.3 162 448 157.5 447.6 153C447 149 447 145 448.6 141.5C451 136.5 454.3 131.5 456.2 127.3Z" fill="#800F3B" stroke="#860F3D" stroke-width="0.9" stroke-linejoin="round"/>
<path d="M466.3 161.6C465.8 165 463.8 170 462 173.8L458 171.5C460.3 168 463.3 164 466.3 161.6Z" fill="#800F3B" stroke="#860F3D" stroke-width="0.9" stroke-linejoin="round"/>
</g>
<path d="M186 140C180 146 170 150 164 146C158 142 166 138 174 140C182 142 188 146 196 142" fill="none" stroke="#5A1DB0" stroke-width="0.45" opacity="0.7"/><path d="M212 137.5C204 138.5 200 134 196 138C193 141 198 145 204 143" fill="none" stroke="#5A1DB0" stroke-width="0.45" opacity="0.7"/><path d="M225 128.5C219 131 214 129 210 132C206 135 208 140 213 141" fill="none" stroke="#5A1DB0" stroke-width="0.45" opacity="0.7"/><path d="M245.5 127C238 131 236 137 231 138C226 139 226 133 229 131" fill="none" stroke="#5A1DB0" stroke-width="0.45" opacity="0.7"/><path d="M258.5 133.5C252 137 250 143 244 143C240 143 238 140 236 141" fill="none" stroke="#5A1DB0" stroke-width="0.45" opacity="0.7"/><path d="M275 120C268 121 266 127 262 129C258 131 254 128 252 130" fill="none" stroke="#5A1DB0" stroke-width="0.45" opacity="0.7"/><path d="M279.5 123.5C276 120 273 122 270 120" fill="none" stroke="#5A1DB0" stroke-width="0.45" opacity="0.7"/><path d="M274 134C268 133 266 137 261 138" fill="none" stroke="#5A1DB0" stroke-width="0.45" opacity="0.7"/><g transform="translate(190.4 136.1) rotate(-40)"><line x1="-8" y1="0" x2="-3" y2="0" stroke="#4217C9" stroke-width="1.5" stroke-linecap="round"/><ellipse cx="0" cy="0" rx="3.5" ry="3" fill="#C3B4F2"/><ellipse cx="-0.5" cy="0.1" rx="2.4" ry="2.2" fill="#5326DC"/><circle cx="1.1" cy="-0.8" r="0.9" fill="#D8CFF8" opacity="0.85"/></g><g transform="translate(218.8 136.5) rotate(-5)"><line x1="-8" y1="0" x2="-3" y2="0" stroke="#4217C9" stroke-width="1.5" stroke-linecap="round"/><ellipse cx="0" cy="0" rx="3.5" ry="3" fill="#C3B4F2"/><ellipse cx="-0.5" cy="0.1" rx="2.4" ry="2.2" fill="#5326DC"/><circle cx="1.1" cy="-0.8" r="0.9" fill="#D8CFF8" opacity="0.85"/></g><g transform="translate(230.4 125.8) rotate(-25)"><line x1="-8" y1="0" x2="-3" y2="0" stroke="#4217C9" stroke-width="1.5" stroke-linecap="round"/><ellipse cx="0" cy="0" rx="3.5" ry="3" fill="#C3B4F2"/><ellipse cx="-0.5" cy="0.1" rx="2.4" ry="2.2" fill="#5326DC"/><circle cx="1.1" cy="-0.8" r="0.9" fill="#D8CFF8" opacity="0.85"/></g><g transform="translate(251.5 123.7) rotate(-28)"><line x1="-8" y1="0" x2="-3" y2="0" stroke="#4217C9" stroke-width="1.5" stroke-linecap="round"/><ellipse cx="0" cy="0" rx="3.5" ry="3" fill="#C3B4F2"/><ellipse cx="-0.5" cy="0.1" rx="2.4" ry="2.2" fill="#5326DC"/><circle cx="1.1" cy="-0.8" r="0.9" fill="#D8CFF8" opacity="0.85"/></g><g transform="translate(264.6 130.5) rotate(-25)"><line x1="-8" y1="0" x2="-3" y2="0" stroke="#4217C9" stroke-width="1.5" stroke-linecap="round"/><ellipse cx="0" cy="0" rx="3.5" ry="3" fill="#C3B4F2"/><ellipse cx="-0.5" cy="0.1" rx="2.4" ry="2.2" fill="#5326DC"/><circle cx="1.1" cy="-0.8" r="0.9" fill="#D8CFF8" opacity="0.85"/></g><g transform="translate(281.0 117.5) rotate(-20)"><line x1="-8" y1="0" x2="-3" y2="0" stroke="#4217C9" stroke-width="1.5" stroke-linecap="round"/><ellipse cx="0" cy="0" rx="3.5" ry="3" fill="#C3B4F2"/><ellipse cx="-0.5" cy="0.1" rx="2.4" ry="2.2" fill="#5326DC"/><circle cx="1.1" cy="-0.8" r="0.9" fill="#D8CFF8" opacity="0.85"/></g><g transform="translate(283.0 126.2) rotate(40)"><line x1="-8" y1="0" x2="-3" y2="0" stroke="#4217C9" stroke-width="1.5" stroke-linecap="round"/><ellipse cx="0" cy="0" rx="3.5" ry="3" fill="#C3B4F2"/><ellipse cx="-0.5" cy="0.1" rx="2.4" ry="2.2" fill="#5326DC"/><circle cx="1.1" cy="-0.8" r="0.9" fill="#D8CFF8" opacity="0.85"/></g><g transform="translate(280.0 135.0) rotate(12)"><line x1="-8" y1="0" x2="-3" y2="0" stroke="#4217C9" stroke-width="1.5" stroke-linecap="round"/><ellipse cx="0" cy="0" rx="3.5" ry="3" fill="#C3B4F2"/><ellipse cx="-0.5" cy="0.1" rx="2.4" ry="2.2" fill="#5326DC"/><circle cx="1.1" cy="-0.8" r="0.9" fill="#D8CFF8" opacity="0.85"/></g>
<ellipse cx="388.7" cy="134.15" rx="105.2" ry="55.6" transform="rotate(8 388.7 134.15)" fill="none" stroke="#3a3535" stroke-width="0.7"/>
<path d="M236.8 322.2C239.9 318.4 242.5 316.2 247.3 314.0C252.2 311.8 258.4 310.1 265.9 309.2C273.3 308.3 283.3 310.4 292.0 308.8C300.7 307.2 309.9 302.5 318.0 299.8C326.1 297.1 332.4 294.2 340.5 292.6C348.6 291.0 357.8 290.5 366.5 290.3C375.2 290.1 385.8 290.5 392.6 291.4C399.4 292.3 403.1 293.0 407.5 295.5C411.9 298.0 414.9 301.4 418.7 306.5C422.5 311.6 427.1 319.3 430.5 325.9C433.9 332.5 437.2 338.8 438.8 346.0C440.4 353.2 441.2 361.2 440.0 369.0C438.8 376.8 435.1 385.9 431.5 393.0C427.9 400.1 423.3 406.7 418.7 411.6C414.1 416.5 410.2 419.4 403.8 422.5C397.4 425.6 387.0 428.3 380.0 430.5C373.0 432.7 367.4 434.6 362.0 435.5C356.6 436.4 352.1 435.8 347.7 435.6C343.3 435.4 339.6 433.8 335.5 434.2C331.4 434.6 327.9 437.3 323.3 438.2C318.7 439.1 313.6 440.6 308.0 439.6C302.4 438.7 295.6 435.5 290.0 432.5C284.4 429.5 279.8 425.0 274.7 421.7C269.6 418.4 263.6 415.1 259.5 412.6C255.4 410.1 252.7 409.5 250.0 406.5C247.3 403.5 245.2 398.6 243.5 394.5C241.8 390.4 242.0 386.4 239.8 381.8C237.6 377.2 232.7 371.9 230.5 366.9C228.3 361.9 227.1 357.0 226.8 352.0C226.5 347.0 226.9 342.0 228.6 337.0C230.3 332.0 233.7 326.0 236.8 322.2Z" fill="#F0E0D4"/>
<g clip-path="url(#cpOvary)">
<path d="M236.8 322.2C239.9 318.4 242.5 316.2 247.3 314.0C252.2 311.8 258.4 310.1 265.9 309.2C273.3 308.3 283.3 310.4 292.0 308.8C300.7 307.2 309.9 302.5 318.0 299.8C326.1 297.1 332.4 294.2 340.5 292.6C348.6 291.0 357.8 290.5 366.5 290.3C375.2 290.1 385.8 290.5 392.6 291.4C399.4 292.3 403.1 293.0 407.5 295.5C411.9 298.0 414.9 301.4 418.7 306.5C422.5 311.6 427.1 319.3 430.5 325.9C433.9 332.5 437.2 338.8 438.8 346.0C440.4 353.2 441.2 361.2 440.0 369.0C438.8 376.8 435.1 385.9 431.5 393.0C427.9 400.1 423.3 406.7 418.7 411.6C414.1 416.5 410.2 419.4 403.8 422.5C397.4 425.6 387.0 428.3 380.0 430.5C373.0 432.7 367.4 434.6 362.0 435.5C356.6 436.4 352.1 435.8 347.7 435.6C343.3 435.4 339.6 433.8 335.5 434.2C331.4 434.6 327.9 437.3 323.3 438.2C318.7 439.1 313.6 440.6 308.0 439.6C302.4 438.7 295.6 435.5 290.0 432.5C284.4 429.5 279.8 425.0 274.7 421.7C269.6 418.4 263.6 415.1 259.5 412.6C255.4 410.1 252.7 409.5 250.0 406.5C247.3 403.5 245.2 398.6 243.5 394.5C241.8 390.4 242.0 386.4 239.8 381.8C237.6 377.2 232.7 371.9 230.5 366.9C228.3 361.9 227.1 357.0 226.8 352.0C226.5 347.0 226.9 342.0 228.6 337.0C230.3 332.0 233.7 326.0 236.8 322.2Z" fill="none" stroke="#DDC8B9" stroke-width="12" filter="url(#b3)" opacity="0.85"/>
<rect x="220" y="285" width="230" height="160" fill="url(#gOvSh)"/>
<path d="M235 365C255 372 283 373 317 367C340 363 360 361 379 360C395 361 410 370 430 384" fill="none" stroke="#E0CBBC" stroke-width="9" filter="url(#b3)" opacity="0.5"/>
<path d="M297 312C298 335 300 352 305 366" fill="none" stroke="#E0CBBC" stroke-width="9" filter="url(#b3)" opacity="0.5"/>
<path d="M351 305C350 325 350 345 352 362" fill="none" stroke="#E0CBBC" stroke-width="9" filter="url(#b3)" opacity="0.5"/>
<path d="M321 374C322 395 326 420 327 442" fill="none" stroke="#E0CBBC" stroke-width="9" filter="url(#b3)" opacity="0.5"/>
<path d="M372 368C373 390 375 410 376 428" fill="none" stroke="#E0CBBC" stroke-width="9" filter="url(#b3)" opacity="0.5"/>
<path d="M406 371C408 385 410 400 410 414" fill="none" stroke="#E0CBBC" stroke-width="9" filter="url(#b3)" opacity="0.5"/>
<ellipse cx="264" cy="340" rx="20" ry="17" fill="#FBF0E8" filter="url(#b8)" opacity="0.80"/>
<ellipse cx="326" cy="331" rx="20" ry="16" fill="#FBF0E8" filter="url(#b8)" opacity="0.80"/>
<ellipse cx="380" cy="322" rx="26" ry="15" fill="#FBF0E8" filter="url(#b8)" opacity="0.80"/>
<ellipse cx="420" cy="346" rx="9" ry="18" fill="#FBF0E8" filter="url(#b8)" opacity="0.50"/>
<ellipse cx="292" cy="397" rx="18" ry="16" fill="#FBF0E8" filter="url(#b8)" opacity="0.75"/>
<ellipse cx="350" cy="392" rx="18" ry="16" fill="#FBF0E8" filter="url(#b8)" opacity="0.75"/>
<ellipse cx="392" cy="394" rx="14" ry="15" fill="#FBF0E8" filter="url(#b8)" opacity="0.70"/>
</g>
<path d="M518.5 320.7C518.5 322.2 516.6 323.6 516.1 325.2C515.6 326.8 516.3 329.1 515.4 330.3C514.5 331.5 512.1 331.5 510.8 332.5C509.4 333.5 508.7 335.7 507.2 336.2C505.8 336.7 503.9 335.3 502.2 335.3C500.5 335.3 498.6 336.7 497.2 336.2C495.7 335.7 495.0 333.5 493.6 332.5C492.3 331.5 489.9 331.5 489.0 330.3C488.1 329.1 488.8 326.8 488.3 325.2C487.8 323.6 485.9 322.2 485.9 320.7C485.9 319.2 487.8 317.8 488.3 316.2C488.8 314.6 488.1 312.3 489.0 311.1C489.9 309.9 492.3 309.9 493.6 308.9C495.0 307.9 495.7 305.7 497.2 305.2C498.6 304.7 500.5 306.1 502.2 306.1C503.9 306.1 505.8 304.7 507.2 305.2C508.7 305.7 509.4 307.9 510.8 308.9C512.1 309.9 514.5 309.9 515.4 311.1C516.3 312.3 515.6 314.6 516.1 316.2C516.6 317.8 518.5 319.2 518.5 320.7Z" fill="#D9668C" opacity="0.55" filter="url(#b1)"/>
<circle cx="502.2" cy="320.7" r="13.6" fill="#E2638B"/>
<circle cx="502.2" cy="320.7" r="12.3" fill="none" stroke="#F2A0B9" stroke-width="0.9"/>
<circle cx="502.2" cy="320.7" r="11.0" fill="#DC507B"/>
<circle cx="502.2" cy="320.7" r="9.6" fill="url(#gOvum)"/>
<path d="M494.8 319.1A7.6 7.6 0 0 1 500.6 313.3" fill="none" stroke="#FBC3D2" stroke-width="0.8" stroke-linecap="round" opacity="0.75"/>
<g stroke="#8f8f8f" stroke-width="0.75" fill="none">
<path d="M182 99.9L191.4 134.7"/><path d="M515.5 320.6H575.4"/><path d="M209.9 383.2H254.8"/><path d="M473.3 447.6H519.3"/>
</g>
<path d="M490.6 104.4L476.4 110.9" stroke="#333" stroke-width="0.75"/>
<circle cx="191.5" cy="135.0" r="1.5" fill="#fff" stroke="#8a8a8a" stroke-width="0.6"/>
<circle cx="515.3" cy="320.7" r="1.5" fill="#fff" stroke="#8a8a8a" stroke-width="0.6"/>
<circle cx="254.8" cy="383.2" r="1.5" fill="#fff" stroke="#8a8a8a" stroke-width="0.6"/>
<circle cx="473.2" cy="447.6" r="1.5" fill="#fff" stroke="#8a8a8a" stroke-width="0.6"/>
<text x="231.6" y="53.5" font-family="'Liberation Sans', Arial, sans-serif" font-size="22.3" fill="#111" textLength="261" lengthAdjust="spacingAndGlyphs">Fallopian tube obstruction</text>
<text x="168.4" y="95.1" font-family="'Liberation Sans', Arial, sans-serif" font-size="11.5" fill="#555" stroke="#555" stroke-width="0.3" stroke-linejoin="round" lengthAdjust="spacingAndGlyphs" textLength="27">Sperm</text>
<text x="496.2" y="104.8" font-family="'Liberation Sans', Arial, sans-serif" font-size="14.3" fill="#111" stroke="#111" stroke-width="0.35" stroke-linejoin="round" lengthAdjust="spacingAndGlyphs" textLength="82.4">Blockage in tube</text>
<text x="579.7" y="324.8" font-family="'Liberation Sans', Arial, sans-serif" font-size="11.7" fill="#444" stroke="#444" stroke-width="0.3" stroke-linejoin="round" lengthAdjust="spacingAndGlyphs" textLength="24">Ovum</text>
<text x="179.7" y="386.7" font-family="'Liberation Sans', Arial, sans-serif" font-size="11.7" fill="#444" stroke="#444" stroke-width="0.3" stroke-linejoin="round" lengthAdjust="spacingAndGlyphs" textLength="24.6">Ovary</text>
<text x="523.3" y="451.3" font-family="'Liberation Sans', Arial, sans-serif" font-size="11.7" fill="#444" stroke="#444" stroke-width="0.3" stroke-linejoin="round" lengthAdjust="spacingAndGlyphs" textLength="36.8">Fimbriae</text>
</svg>
</body></html>
